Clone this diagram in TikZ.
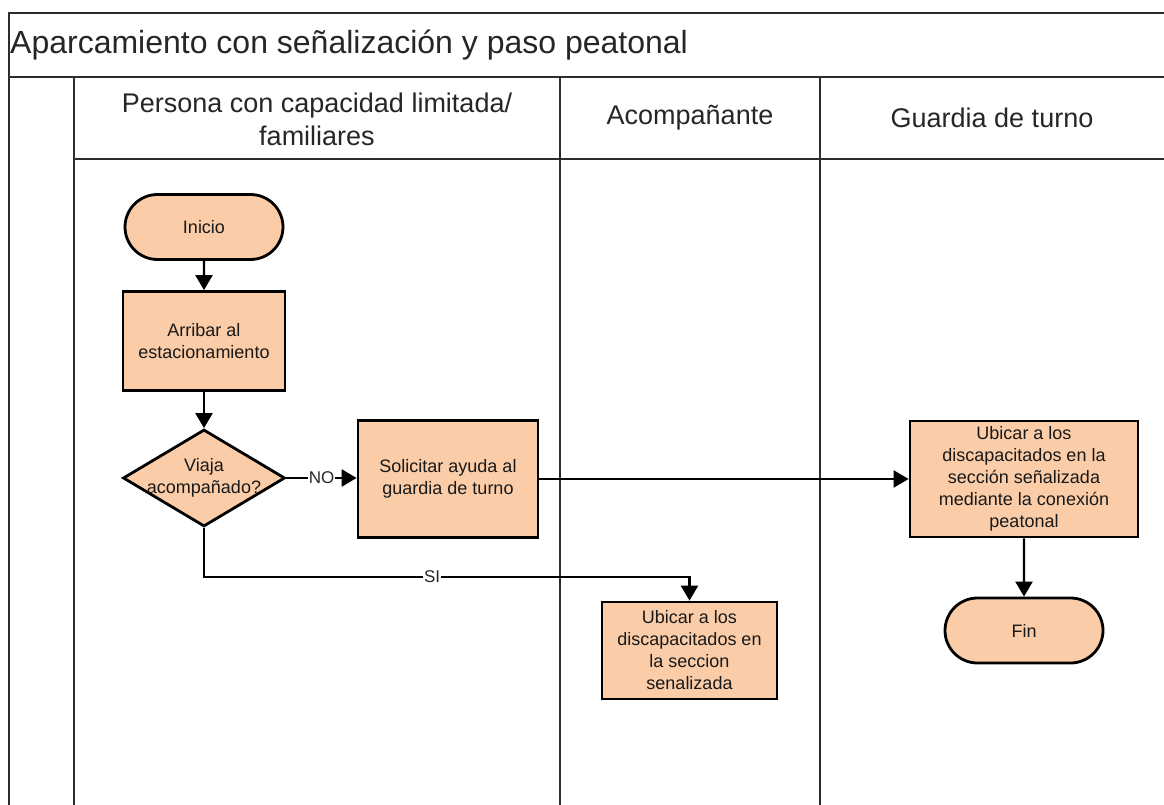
\documentclass[tikz,border=0pt]{standalone}
\usepackage{fontspec}
\setmainfont{Liberation Sans}
\usetikzlibrary{arrows.meta,shapes.geometric,shapes.misc}
\definecolor{peach}{RGB}{250,204,167}
\definecolor{lanecol}{RGB}{45,45,45}
\tikzset{
  lane/.style={draw=lanecol,line width=1.3pt},
  nodefont/.style={font=\fontsize{18}{22}\selectfont,text=black!90},
  procbox/.style={draw=black,line width=2.8pt,fill=peach,rectangle,align=center,inner sep=2pt,nodefont},
  term/.style={draw=black,line width=2.8pt,fill=peach,rounded rectangle,align=center,inner sep=2pt,minimum width=162pt,minimum height=65pt,nodefont},
  decision/.style={draw=black,line width=2.8pt,fill=peach,diamond,inner sep=0pt,minimum width=162pt,minimum height=97pt},
  arr/.style={draw=black,line width=2.4pt,-{Triangle[length=15pt,width=17pt]}},
  lbl/.style={fill=white,inner sep=1pt,font=\fontsize{17}{20}\selectfont,text=black!85},
  hdr/.style={align=center,font=\fontsize{27}{33}\selectfont,text=black!85},
}
\begin{document}
\begin{tikzpicture}[x=1pt,y=-1pt]
\useasboundingbox (0,0) rectangle (1164,805);
% frame
\draw[lane] (1164,13) -- (9,13) -- (9,805);
\draw[lane] (9,77) -- (1164,77);
\draw[lane] (74,77) -- (74,805);
\draw[lane] (74,159) -- (1164,159);
\draw[lane] (560,77) -- (560,805);
\draw[lane] (820,77) -- (820,805);
% title and headers
\node[anchor=west,font=\fontsize{32}{36}\selectfont,text=black!85,inner sep=0pt] (title) at (10,45) {Aparcamiento con señalización y paso peatonal};
\node[hdr] (h1) at (317,119) {Persona con capacidad limitada/\\familiares};
\node[hdr] (h2) at (690,118) {Acompañante};
\node[hdr] (h3) at (992,118) {Guardia de turno};
% nodes
\node[term] (inicio) at (204,227) {Inicio};
\node[procbox,minimum width=162pt,minimum height=99pt] (arribar) at (204,341) {Arribar al\\estacionamiento};
\node[decision,label={[nodefont,align=center]center:Viaja\\acompañado?}] (dec) at (204,478) {};
\node[procbox,minimum width=180pt,minimum height=117pt] (sol) at (448,479) {Solicitar ayuda al\\guardia de turno};
\node[procbox,minimum width=228pt,minimum height=116pt] (ub2) at (1024,479) {Ubicar a los\\discapacitados en la\\sección señalizada\\mediante la conexión\\peatonal};
\node[term] (fin) at (1024,630.5) {Fin};
\node[procbox,minimum width=175pt,minimum height=97pt] (ub1) at (689.5,650.5) {Ubicar a los\\discapacitados en\\la seccion\\senalizada};
\coordinate (k) at (204,577);
% connectors
\draw[arr] (inicio) -- (arribar);
\draw[arr] (arribar) -- (dec);
\draw[arr] (dec.east) -- node[lbl] {NO} (dec.east -| sol.west);
\draw[arr] (sol.east) -- (ub2.west);
\draw[arr] (ub2) -- (fin);
\draw[arr] (dec.south) -- (k) -- node[lbl,pos=0.47] {SI} (k -| ub1.north) -- (ub1.north);
\end{tikzpicture}
\end{document}
